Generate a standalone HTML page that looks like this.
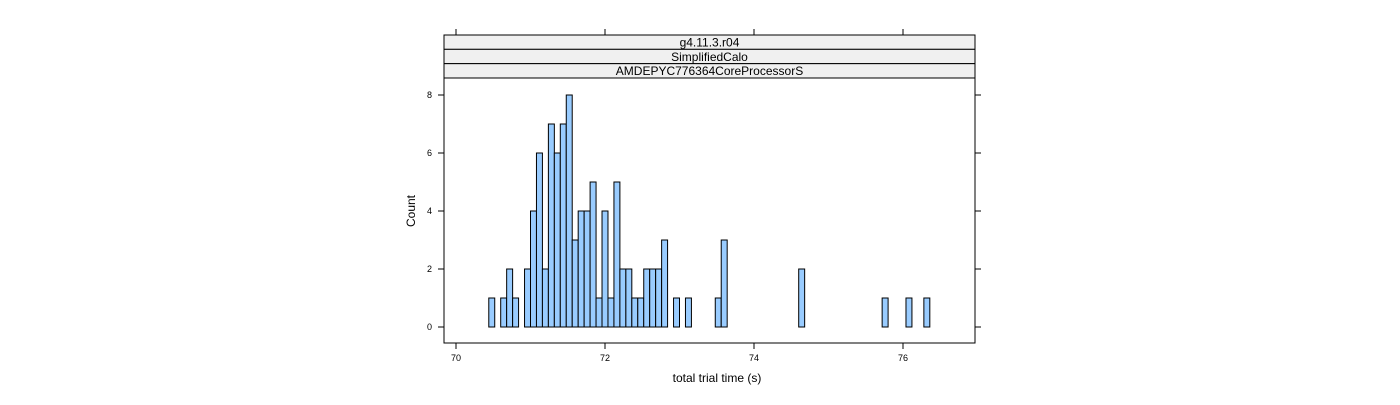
<!DOCTYPE html>
<html><head><meta charset="utf-8"><style>
body{margin:0;background:#fff;}
svg text{font-family:"Liberation Sans",sans-serif;}
</style></head><body>
<svg width="1400" height="400" xmlns="http://www.w3.org/2000/svg">
<g id="root"></g>
</svg>
<script>
const binStart = 70.2;
const binWidth = 0.08;
const counts = [0,0,0,1,0,1,2,1,0,2,4,6,2,7,6,7,8,3,4,4,5,1,4,1,5,2,2,1,1,2,2,2,3,0,1,0,1,0,0,0,0,1,3,0,0,0,0,0,0,0,0,0,0,0,0,2,0,0,0,0,0,0,0,0,0,0,0,0,0,1,0,0,0,1,0,0,1,0,0,0];
const xTicks = [70,72,74,76];
const yTicks = [0,2,4,6,8];
const stripLabels = ["g4.11.3.r04","SimplifiedCalo","AMDEPYC776364CoreProcessorS"];

const NS="http://www.w3.org/2000/svg";
const root=document.getElementById('root');
const L=444,R=975,T=78,B=343;
const X=v=>456+(v-70)*74.5;
const Y=v=>327-v*29;
function mk(tag,attrs,parent){const e=document.createElementNS(NS,tag);for(const k in attrs)e.setAttribute(k,attrs[k]);(parent||root).appendChild(e);return e;}

// strips
stripLabels.forEach((s,i)=>{
  const y=35+i*14.33;
  const r=mk('rect',{x:L,y:y,width:R-L,height:14.33,fill:'#f0f0f0',stroke:'#000','stroke-width':1});
  
  
  const t=mk('text',{x:(L+R)/2,y:y+11.5,'text-anchor':'middle','font-size':12});
  t.textContent=s;
  
  
});

// bars
counts.forEach((c,i)=>{
  const x0=X(binStart+i*binWidth),x1=X(binStart+(i+1)*binWidth);
  const r=mk('rect',{x:x0,y:Y(c),width:x1-x0,height:Y(0)-Y(c),fill:'#99ccff',stroke:'#000','stroke-width':1});
  
  
});

// panel
const p=mk('rect',{x:L,y:T,width:R-L,height:B-T,fill:'none',stroke:'#000','stroke-width':1});



xTicks.forEach(v=>{
  const x=X(v);
  mk('line',{x1:x,x2:x,y1:B,y2:B+6,stroke:'#000'});
  mk('line',{x1:x,x2:x,y1:35,y2:29,stroke:'#000'});
  const t=mk('text',{x:x,y:361,'text-anchor':'middle','font-size':9});
  t.textContent=v;
  
  
});
yTicks.forEach(v=>{
  const y=Y(v);
  mk('line',{x1:L,x2:L-6,y1:y,y2:y,stroke:'#000'});
  mk('line',{x1:R,x2:R+6,y1:y,y2:y,stroke:'#000'});
  const t=mk('text',{x:432,y:y+3,'text-anchor':'end','font-size':9});
  t.textContent=v;
  
  
});
const xt=mk('text',{x:717,y:382,'text-anchor':'middle','font-size':12});
xt.textContent='total trial time (s)';


const yt=mk('text',{x:415,y:211,'text-anchor':'middle','font-size':12,transform:'rotate(-90 415 211)'});
yt.textContent='Count';


</script>
</body></html>
